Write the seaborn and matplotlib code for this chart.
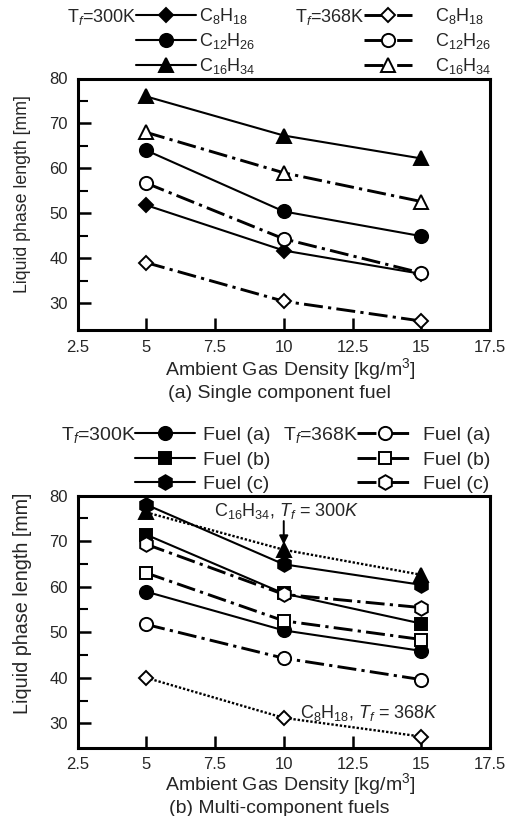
import matplotlib
matplotlib.use("Agg")
import matplotlib.pyplot as plt
from matplotlib.lines import Line2D
from matplotlib.ticker import FixedLocator
import seaborn as sns

# Ambient gas density [kg/m3]
density = [5, 10, 15]

# (a) Single component fuels: liquid phase length [mm]
c8_300 = [51.8, 41.7, 36.5]
c12_300 = [64.0, 50.4, 44.9]
c16_300 = [76.0, 67.3, 62.2]
c8_368 = [39.0, 30.4, 26.0]
c12_368 = [56.7, 44.3, 36.7]
c16_368 = [68.0, 59.0, 52.6]

# (b) Multi-component fuels: liquid phase length [mm]
fuel_a_300 = [58.9, 50.4, 45.9]
fuel_b_300 = [71.4, 58.5, 51.9]
fuel_c_300 = [78.0, 64.9, 60.4]
fuel_a_368 = [51.7, 44.3, 39.6]
fuel_b_368 = [63.0, 52.5, 48.4]
fuel_c_368 = [69.3, 58.3, 55.4]
ref_c16_300 = [76.3, 68.1, 62.6]
ref_c8_368 = [40.0, 31.2, 27.1]

x_ticks = [2.5, 5, 7.5, 10, 12.5, 15, 17.5]
x_ticklabels = ["2.5", "5", "7.5", "10", "12.5", "15", "17.5"]
y_ticks = [30, 40, 50, 60, 70, 80]

labels_a = [r"C$_{8}$H$_{18}$", r"C$_{12}$H$_{26}$", r"C$_{16}$H$_{34}$"]
labels_b = ["Fuel (a)", "Fuel (b)", "Fuel (c)"]

sns.set_theme(style="ticks")
plt.rcParams["font.family"] = ["Liberation Sans", "DejaVu Sans"]
plt.rcParams["mathtext.fontset"] = "custom"
plt.rcParams["mathtext.rm"] = "Liberation Sans"
plt.rcParams["mathtext.it"] = "Liberation Sans:italic"
plt.rcParams["mathtext.bf"] = "Liberation Sans:bold"

W, H = 518, 816
fig = plt.figure(figsize=(W / 100, H / 100), dpi=100)


def frac_box(left, top, right, bottom):
    return [left / W, 1 - bottom / H, (right - left) / W, (bottom - top) / H]


ax_a = fig.add_axes(frac_box(77.5, 78.5, 490, 330))
ax_b = fig.add_axes(frac_box(77.5, 495.5, 490, 747.5))

SOLID = dict(linestyle="-", lw=1.5)
DASHDOT = dict(linestyle=(0, (6.5, 1.8, 1.1, 1.8)), lw=2.1)
DOTTED = dict(linestyle=(0, (1, 0.8)), lw=1.7)


def style(marker, ms, filled, line):
    d = dict(line)
    d.update(marker=marker, markersize=ms, color="black",
             markerfacecolor="black" if filled else "white",
             markeredgecolor="black", markeredgewidth=1.4)
    return d


styles_a = [
    style("D", 7.5, True, SOLID),
    style("o", 9.5, True, SOLID),
    style("^", 10.5, True, SOLID),
    style("D", 7.5, False, DASHDOT),
    style("o", 9.5, False, DASHDOT),
    style("^", 10.5, False, DASHDOT),
]
series_a = [c8_300, c12_300, c16_300, c8_368, c12_368, c16_368]

styles_b = [
    style("o", 9.5, True, SOLID),
    style("s", 9, True, SOLID),
    style("h", 10.5, True, SOLID),
    style("o", 9.5, False, DASHDOT),
    style("s", 9, False, DASHDOT),
    style("h", 10.5, False, DASHDOT),
]
series_b = [fuel_a_300, fuel_b_300, fuel_c_300, fuel_a_368, fuel_b_368, fuel_c_368]

# Reference single-component curves drawn behind the blends
sns.lineplot(x=density, y=ref_c16_300, ax=ax_b, **style("^", 10.5, True, DOTTED))
sns.lineplot(x=density, y=ref_c8_368, ax=ax_b, **style("D", 7.5, False, DOTTED))

for vals, st in zip(series_a, styles_a):
    sns.lineplot(x=density, y=vals, ax=ax_a, **st)
for vals, st in zip(series_b, styles_b):
    sns.lineplot(x=density, y=vals, ax=ax_b, **st)

TICK_FS = 12
panels = [
    # axes, lower y limit, caption, label baselines, ylabel centre, ylabel size
    (ax_a, 24.0, "(a) Single component fuel", -0.179, -0.269, 0.541, 12.8),
    (ax_b, 24.7, "(b) Multi-component fuels", -0.169, -0.261, 0.573, 14.2),
]
for ax, ylo, sub, xl_y, sub_y, yl_y, yl_fs in panels:
    ax.set_xlim(2.5, 17.5)
    ax.set_ylim(ylo, 80)
    ax.xaxis.set_major_locator(FixedLocator(x_ticks))
    ax.set_xticklabels(x_ticklabels, fontsize=TICK_FS)
    ax.yaxis.set_major_locator(FixedLocator(y_ticks))
    ax.yaxis.set_minor_locator(FixedLocator([35, 45, 55, 65, 75]))
    ax.set_yticklabels([str(v) for v in y_ticks], fontsize=TICK_FS)
    ax.tick_params(axis="both", which="major", direction="in", length=9,
                   width=1.8, color="black", pad=7)
    ax.tick_params(axis="y", which="minor", direction="in", length=7,
                   width=1.5, color="black")
    for sp in ax.spines.values():
        sp.set_visible(True)
        sp.set_linewidth(2.2)
        sp.set_color("black")
    ax.set_xlabel("")
    ax.set_ylabel("")
    ax.text(0.515, xl_y, r"Ambient Gas Density [kg/m$^{3}$]",
            transform=ax.transAxes, ha="center", va="baseline", fontsize=14)
    ax.text(0.49, sub_y, sub, transform=ax.transAxes, ha="center",
            va="baseline", fontsize=14)
    ax.text(-0.133, yl_y, "Liquid phase length [mm]", transform=ax.transAxes,
            rotation=90, ha="center", va="center", fontsize=yl_fs)

# Annotations for the reference curves
ax_b.text(7.45, 76.6, r"C$_{16}$H$_{34}$, $T_f$ = $\mathit{300K}$",
          fontsize=13, va="center", ha="left")
ax_b.annotate("", xy=(10, 68.6), xytext=(10, 75.0),
              arrowprops=dict(arrowstyle="-|>", color="black", lw=1.4,
                              mutation_scale=13))
ax_b.text(10.6, 32.3, r"C$_{8}$H$_{18}$, $T_f$ = $\mathit{368K}$",
          fontsize=13, va="center", ha="left")


def handles(styles):
    return [Line2D([0], [0], **st) for st in styles]


def legend_block(hs, labels, x_px, top_px, fs, hlen, pad, spacing):
    return fig.legend(hs, labels, loc="upper left",
                      bbox_to_anchor=(x_px / W, 1 - top_px / H),
                      frameon=False, fontsize=fs, borderpad=0,
                      borderaxespad=0, handlelength=hlen, handletextpad=pad,
                      labelspacing=spacing)


h_a = handles(styles_a)
legend_block(h_a[:3], labels_a, 136, 6, 13, 3.3, 0.17, 0.29)
legend_block(h_a[3:], labels_a, 364, 6, 13, 2.65, 1.27, 0.29)
fig.text(137 / W, 1 - 17 / H, r"T$_f$=300K", ha="right", va="center",
         fontsize=13)
fig.text(365 / W, 1 - 17 / H, r"T$_f$=368K", ha="right", va="center",
         fontsize=13)

h_b = handles(styles_b)
legend_block(h_b[:3], labels_b, 135, 426.5, 14, 3.1, 0.41, 0.35)
legend_block(h_b[3:], labels_b, 357, 426.5, 14, 2.9, 0.51, 0.35)
fig.text(136 / W, 1 - 435 / H, r"T$_f$=300K", ha="right", va="center",
         fontsize=14)
fig.text(358 / W, 1 - 435 / H, r"T$_f$=368K", ha="right", va="center",
         fontsize=14)

fig.savefig("out.png", dpi=100)
